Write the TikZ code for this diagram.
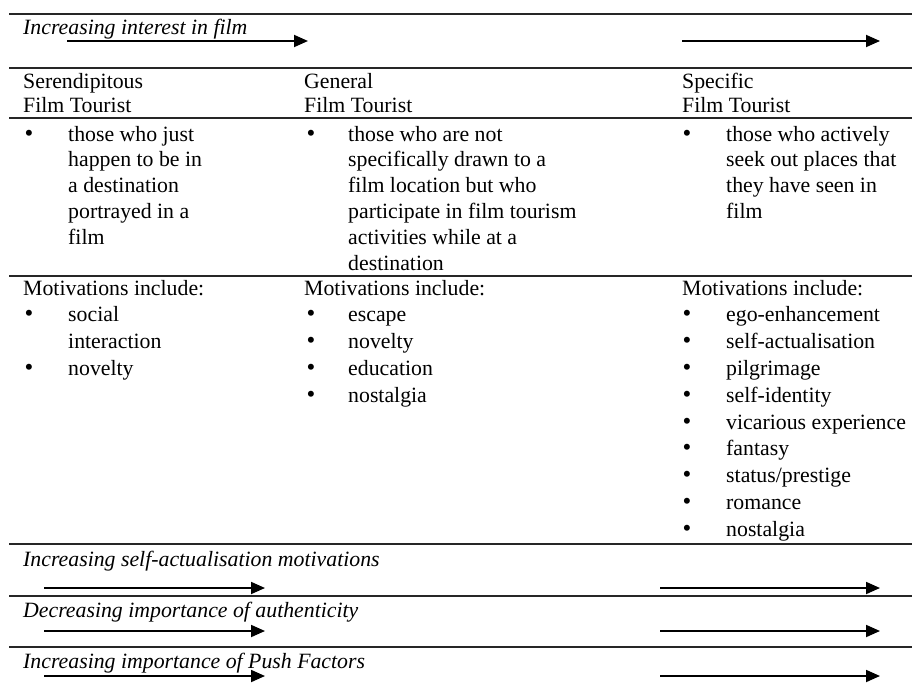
\documentclass[tikz,border=0pt]{standalone}
\usepackage{fontspec}
\setmainfont{Liberation Serif}
\usetikzlibrary{arrows.meta}
\begin{document}
\begin{tikzpicture}[x=1pt,y=-1pt,
  txt/.style={anchor=base west,inner sep=0pt,font=\fontsize{21.8}{25.6}\selectfont},
  itxt/.style={txt,font=\fontsize{21.8}{25.6}\selectfont\itshape},
  bul/.style={anchor=base,inner sep=0pt,font=\fontsize{25}{25.6}\selectfont},
  rule/.style={line width=1.6pt,draw=black!85},
  arr/.style={line width=1.8pt,-{Triangle[length=14pt,width=12pt]}}]
\useasboundingbox (0,0) rectangle (912,682);
\fill[white] (0,0) rectangle (912,682);
% horizontal rules
\foreach \y [count=\k] in {14,68,118,276,544,596,647}{
  \coordinate (rl\k) at (9,\y);
  \coordinate (rr\k) at (912,\y);
  \draw[rule] (rl\k) -- (rr\k);
}
% title row
\node[itxt] (title) at (23,35) {Increasing interest in film};
\coordinate (t1s) at (67,41); \coordinate (t1e) at (308,41);
\coordinate (t2s) at (682,41); \coordinate (t2e) at (880,41);
\draw[arr] (t1s) -- (t1e);
\draw[arr] (t2s) -- (t2e);
% header row
\node[txt] (h1a) at (23,89) {Serendipitous};
\node[txt] (h1b) at (23,113) {Film Tourist};
\node[txt] (h2a) at (304,89) {General};
\node[txt] (h2b) at (304,113) {Film Tourist};
\node[txt] (h3a) at (682,89) {Specific};
\node[txt] (h3b) at (682,113) {Film Tourist};
% description row
\node[bul] (db1) at (29,141) {•};
\node[bul] (db2) at (311,141) {•};
\node[bul] (db3) at (687,141) {•};
\foreach \t [count=\i from 0] in {those who just,happen to be in,a destination,portrayed in a,film}
  \node[txt] (d1-\i) at (68,141+25.8*\i) {\t};
\foreach \t [count=\i from 0] in {those who are not,specifically drawn to a,film location but who,participate in film tourism,activities while at a,destination}
  \node[txt] (d2-\i) at (348,141+25.8*\i) {\t};
\foreach \t [count=\i from 0] in {those who actively,seek out places that,they have seen in,film}
  \node[txt] (d3-\i) at (726,141+25.8*\i) {\t};
% motivations row
\node[txt] (m1) at (23,295) {Motivations include:};
\node[txt] (m2) at (304,295) {Motivations include:};
\node[txt] (m3) at (682,295) {Motivations include:};
\node[bul] (mb1-1) at (29,321.8) {•};
\node[txt] (m1-1) at (68,321.8) {social};
\node[txt] (m1-1b) at (68,348.6) {interaction};
\node[bul] (mb1-2) at (29,375.4) {•};
\node[txt] (m1-2) at (68,375.4) {novelty};
\foreach \t [count=\i] in {escape,novelty,education,nostalgia}{
  \node[bul] (mb2-\i) at (311,295+26.8*\i) {•};
  \node[txt] (m2-\i) at (348,295+26.8*\i) {\t};
}
\foreach \t [count=\i] in {ego-enhancement,self-actualisation,pilgrimage,self-identity,vicarious experience,fantasy,status/prestige,romance,nostalgia}{
  \node[bul] (mb3-\i) at (687,295+26.8*\i) {•};
  \node[txt] (m3-\i) at (726,295+26.8*\i) {\t};
}
% bottom rows
\node[itxt] (b1) at (23,566) {Increasing self-actualisation motivations};
\node[itxt] (b2) at (23,617) {Decreasing importance of authenticity};
\node[itxt] (b3) at (23,668) {Increasing importance of Push Factors};
\foreach \y [count=\k] in {588,631,676}{
  \coordinate (bl\k s) at (44,\y); \coordinate (bl\k e) at (265,\y);
  \coordinate (br\k s) at (660,\y); \coordinate (br\k e) at (880,\y);
  \draw[arr] (bl\k s) -- (bl\k e);
  \draw[arr] (br\k s) -- (br\k e);
}
\end{tikzpicture}
\end{document}
